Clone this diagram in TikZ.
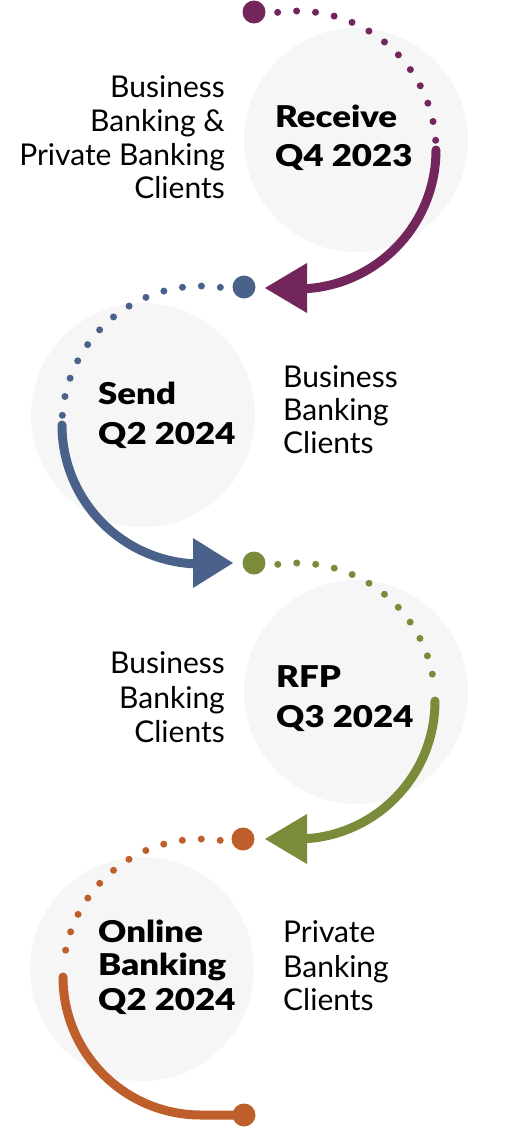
\documentclass[tikz,border=0pt]{standalone}
\usepackage{fontspec}
\setmainfont{Lato}
\newfontfamily\heavyfont[FakeStretch=1.16]{Lato Black}
\definecolor{bgc}{RGB}{246,246,246}
\definecolor{cpurple}{RGB}{114,38,92}
\definecolor{cblue}{RGB}{74,98,138}
\definecolor{cgreen}{RGB}{122,139,58}
\definecolor{corange}{RGB}{190,94,42}
\begin{document}
\begin{tikzpicture}[x=1pt,y=-1pt,
  circ/.style={circle, fill=bgc, draw=none, minimum size=224pt, inner sep=0pt},
  bigdot/.style={circle, minimum size=23pt, inner sep=0pt},
  dots/.style={line width=7pt, line cap=round, dash pattern=on 0pt off 19pt},
  solidarc/.style={line width=9pt, line cap=round},
  lbl/.style={font=\fontsize{30}{35}\selectfont, inner sep=0pt},
  lblL/.style={lbl, anchor=base west},
  lblR/.style={lbl, anchor=base east},
  ttl/.style={font=\heavyfont\fontsize{30}{36}\selectfont, inner sep=0pt, anchor=base west}]
\useasboundingbox (0,0) rectangle (507,1128);

% background circles
\node[circ] (c1) at (356,140) {};
\node[circ] (c2) at (143,415) {};
\node[circ] (c3) at (356,692) {};
\node[circ] (c4) at (142,969) {};

% arc centres
\coordinate (o1) at (297,150);
\coordinate (o2) at (201,425);
\coordinate (o3) at (297,701);
\coordinate (o4) at (201,977);

% path 1 (purple)
\draw[dots, cpurple] ([shift={(-98:139)}]o1) arc[start angle=-98, end angle=-4, radius=139];
\draw[solidarc, cpurple] ([shift={(0:139)}]o1) arc[start angle=0, end angle=87, radius=139];
\fill[cpurple] (307,263) -- (265,288) -- (307,313) -- cycle;

% path 2 (blue)
\draw[dots, cblue] ([shift={(-82:139)}]o2) arc[start angle=-82, end angle=-176, radius=139];
\draw[solidarc, cblue] ([shift={(180:139)}]o2) arc[start angle=180, end angle=93, radius=139];
\fill[cblue] (193,538) -- (233,563) -- (193,588) -- cycle;

% path 3 (green)
\draw[dots, cgreen] ([shift={(-98:138)}]o3) arc[start angle=-98, end angle=-4, radius=138];
\draw[solidarc, cgreen] ([shift={(0:138)}]o3) arc[start angle=0, end angle=87, radius=138];
\fill[cgreen] (307,814) -- (265,839) -- (307,864) -- cycle;

% path 4 (orange)
\draw[dots, corange] ([shift={(-82:138)}]o4) arc[start angle=-82, end angle=-176, radius=138];
\node[bigdot, fill=corange] (e5) at (244,1115) {};
\draw[solidarc, corange] ([shift={(180:138)}]o4) arc[start angle=180, end angle=90, radius=138] -- (e5.center);

% big dots
\node[bigdot, fill=cpurple] (d1) at (254,12) {};
\node[bigdot, fill=cblue] (d2) at (244,287) {};
\node[bigdot, fill=cgreen] (d3) at (254,563) {};
\node[bigdot, fill=corange] (d4) at (243,839) {};

% titles
\node[ttl] (t1a) at (275,127) {Receive};
\node[ttl] (t1b) at (275,166) {Q4 2023};
\node[ttl] (t2a) at (98,404) {Send};
\node[ttl] (t2b) at (98,444) {Q2 2024};
\node[ttl] (t3a) at (276,687) {RFP};
\node[ttl] (t3b) at (276,727) {Q3 2024};
\node[ttl] (t4a) at (98,942) {Online};
\node[ttl] (t4b) at (98,975) {Banking};
\node[ttl] (t4c) at (98,1010) {Q2 2024};

% labels
\node[lblR] (l1a) at (225,97) {Business};
\node[lblR] (l1b) at (225,131) {Banking \&};
\node[lblR] (l1c) at (225,165) {Private Banking};
\node[lblR] (l1d) at (225,198) {Clients};

\node[lblL] (l2a) at (283,387) {Business};
\node[lblL] (l2b) at (283,420) {Banking};
\node[lblL] (l2c) at (283,453) {Clients};

\node[lblR] (l3a) at (225,673) {Business};
\node[lblR] (l3b) at (225,708) {Banking};
\node[lblR] (l3c) at (225,742) {Clients};

\node[lblL] (l4a) at (283,942) {Private};
\node[lblL] (l4b) at (283,977) {Banking};
\node[lblL] (l4c) at (283,1010) {Clients};
\end{tikzpicture}
\end{document}
